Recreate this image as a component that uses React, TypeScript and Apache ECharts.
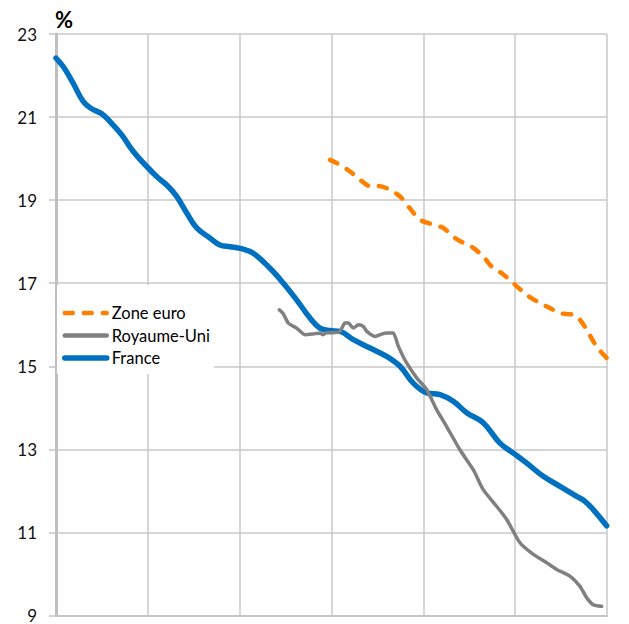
import React, { useEffect, useRef } from "react";
import * as echarts from "echarts";

const yTicks = { min: 9, max: 23, interval: 2 };

const franceX = [1990.0, 1990.4, 1990.94, 1991.49, 1991.94, 1992.49, 1993.03, 1993.58, 1994.21, 1994.94, 1995.48, 1996.11, 1996.57, 1997.12, 1997.66, 1998.38, 1998.93, 1999.47, 2000.02, 2000.74, 2001.65, 2002.38, 2003.1, 2003.83, 2004.37, 2004.92, 2005.46, 2006.19, 2007.1, 2008.0, 2008.73, 2009.44, 2010.18, 2010.91, 2011.63, 2012.36, 2013.26, 2014.17, 2014.9, 2015.63, 2016.53, 2017.44, 2018.35, 2018.8, 2019.25, 2019.98];
const franceY = [22.42, 22.21, 21.81, 21.37, 21.2, 21.08, 20.85, 20.57, 20.17, 19.81, 19.57, 19.33, 19.09, 18.69, 18.33, 18.09, 17.92, 17.88, 17.84, 17.72, 17.36, 17.0, 16.6, 16.16, 15.92, 15.86, 15.84, 15.64, 15.44, 15.24, 15.0, 14.6, 14.36, 14.32, 14.16, 13.88, 13.64, 13.15, 12.91, 12.67, 12.35, 12.11, 11.87, 11.75, 11.55, 11.16];

const ukX = [2002.16, 2002.38, 2002.65, 2003.1, 2003.56, 2004.01, 2004.37, 2004.52, 2004.74, 2005.01, 2005.46, 2005.73, 2005.91, 2006.19, 2006.46, 2006.73, 2006.92, 2007.37, 2007.64, 2008.0, 2008.36, 2008.64, 2009.09, 2009.64, 2010.18, 2010.73, 2011.27, 2011.99, 2012.72, 2013.26, 2013.99, 2014.54, 2015.26, 2015.99, 2016.72, 2017.26, 2017.98, 2018.53, 2018.89, 2019.25, 2019.71];
const ukY = [16.36, 16.26, 16.04, 15.92, 15.76, 15.78, 15.8, 15.76, 15.81, 15.81, 15.84, 16.04, 16.04, 15.92, 16.0, 15.96, 15.84, 15.72, 15.76, 15.8, 15.8, 15.48, 15.08, 14.72, 14.44, 13.95, 13.55, 12.99, 12.51, 12.03, 11.63, 11.31, 10.75, 10.47, 10.27, 10.11, 9.95, 9.7, 9.43, 9.26, 9.22];

const euroX = [2004.92, 2005.46, 2006.01, 2006.55, 2007.1, 2007.55, 2008.18, 2008.73, 2009.18, 2009.82, 2010.54, 2011.09, 2011.63, 2012.18, 2012.72, 2013.26, 2013.81, 2014.27, 2014.9, 2015.63, 2016.35, 2016.9, 2017.44, 2018.16, 2018.53, 2018.89, 2019.43, 2019.98];
const euroY = [19.97, 19.85, 19.69, 19.49, 19.34, 19.34, 19.25, 19.09, 18.85, 18.53, 18.41, 18.33, 18.12, 17.97, 17.85, 17.64, 17.36, 17.24, 17.0, 16.72, 16.52, 16.4, 16.28, 16.24, 16.12, 15.88, 15.48, 15.2];

const legendNames = ["Zone euro", "Royaume-Uni", "France"];

const zip = (xs: number[], ys: number[]) => xs.map((x, i) => [x, ys[i]]);

const FONT = "Lato, 'Noto Sans', sans-serif";

export default function App() {
  const ref = useRef<HTMLDivElement>(null);
  useEffect(() => {
    if (!ref.current) return;
    const chart = echarts.init(ref.current, undefined, { renderer: "svg" });
    const legendWidths: Record<string, number> = { "Zone euro": 4.5, "Royaume-Uni": 4.5, France: 5.5 };
    chart.setOption({
      animation: false,
      backgroundColor: "#ffffff",
      grid: { left: 56, top: 34, right: 22, bottom: 8, containLabel: false },
      graphic: [
        {
          type: "text",
          left: 55,
          top: 8,
          style: { text: "%", font: `bold 22px ${FONT}`, fill: "#000" },
        },
      ],
      legend: {
        data: legendNames.map((n) => ({
          name: n,
          lineStyle: { width: legendWidths[n] },
          itemStyle: { opacity: 0, borderWidth: 0 },
        })),
        orient: "vertical",
        left: 57,
        top: 285,
        padding: [19, 4, 7, 5],
        itemGap: 4.5,
        itemWidth: 42,
        itemHeight: 14,
        backgroundColor: "#ffffff",
        textStyle: { fontFamily: FONT, fontSize: 16.5, color: "#000", lineHeight: 18 },
      },
      xAxis: {
        type: "value",
        min: 1990,
        max: 2020,
        interval: 5,
        axisLine: { show: true, onZero: false, lineStyle: { color: "#c4c4c4", width: 2 } },
        axisTick: { show: false },
        axisLabel: { show: false },
        splitLine: { show: true, lineStyle: { color: "#c8c8c8", width: 1.5 } },
      },
      yAxis: {
        type: "value",
        min: yTicks.min,
        max: yTicks.max,
        interval: yTicks.interval,
        axisLine: { show: true, lineStyle: { color: "#bfbfbf", width: 3 } },
        axisTick: { show: true, length: 7, lineStyle: { color: "#c4c4c4", width: 1.5 } },
        axisLabel: { fontFamily: FONT, fontSize: 17, color: "#111", margin: 19 },
        splitLine: { show: true, lineStyle: { color: "#c8c8c8", width: 1.5 } },
      },
      series: [
        {
          name: "France",
          type: "line",
          data: zip(franceX, franceY),
          symbol: "none",
          showSymbol: false,
          smooth: 0.4,
          lineStyle: { color: "#0070C0", width: 5.5, cap: "round", join: "round" },
          itemStyle: { color: "#0070C0" },
          z: 3,
        },
        {
          name: "Royaume-Uni",
          type: "line",
          data: zip(ukX, ukY),
          symbol: "none",
          showSymbol: false,
          smooth: 0.2,
          lineStyle: { color: "#808080", width: 3.5, cap: "round", join: "round" },
          itemStyle: { color: "#808080" },
          z: 4,
        },
        {
          name: "Zone euro",
          type: "line",
          data: zip(euroX, euroY),
          symbol: "none",
          showSymbol: false,
          smooth: 0.3,
          lineStyle: { color: "#FF8000", width: 4.5, type: [8, 11], cap: "round", join: "round" },
          itemStyle: { color: "#FF8000" },
          z: 5,
        },
      ],
    });
    return () => chart.dispose();
  }, []);
  return (
    <div
      ref={ref}
      style={{ position: "fixed", left: 0, top: 0, width: 629, height: 624 }}
    />
  );
}
